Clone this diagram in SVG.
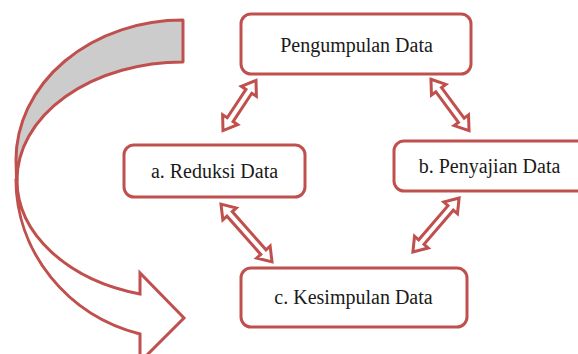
<svg xmlns="http://www.w3.org/2000/svg" width="578" height="354" viewBox="0 0 578 354">
<style>
.box{fill:#fff;stroke:#c0504d;stroke-width:3}
.lbl{font-family:"Liberation Serif","Times New Roman",serif;font-size:20px;fill:#1a1a1a;text-anchor:middle}
.dar{fill:#fff;stroke:#c0504d;stroke-width:3;stroke-linejoin:miter}
</style>
<rect width="578" height="354" fill="#fff"/>
<g id="cycle-arrow">
<path d="M183,20 A167,140 0 0 0 16,160 L16.5,178 L17,180 A166,118 0 0 1 183,62 Z" fill="#cccccc" stroke="#c0504d" stroke-width="3" stroke-linejoin="round"/>
<path d="M16,180 A167,160 0 0 0 140,334 L140,362 L184,318 L140,273 L140,294 A166,118 0 0 1 17,180 Z" fill="#fff" stroke="#c0504d" stroke-width="3" stroke-linejoin="miter"/>
</g>
<g id="connectors">
<path class="dar" transform="translate(239.5,105.5) rotate(123.4)" d="M-30,0 L-17,-9 L-17,-3.5 L17,-3.5 L17,-9 L30,0 L17,9 L17,3.5 L-17,3.5 L-17,9 Z"/>
<path class="dar" transform="translate(450,105) rotate(53.5)" d="M-32,0 L-19,-9 L-19,-3.5 L19,-3.5 L19,-9 L32,0 L19,9 L19,3.5 L-19,3.5 L-19,9 Z"/>
<path class="dar" transform="translate(246.5,233) rotate(48.5)" d="M-38.5,0 L-25.5,-9 L-25.5,-3.5 L25.5,-3.5 L25.5,-9 L38.5,0 L25.5,9 L25.5,3.5 L-25.5,3.5 L-25.5,9 Z"/>
<path class="dar" transform="translate(436,225) rotate(130.6)" d="M-35.5,0 L-22.5,-9 L-22.5,-3.5 L22.5,-3.5 L22.5,-9 L35.5,0 L22.5,9 L22.5,3.5 L-22.5,3.5 L-22.5,9 Z"/>
</g>
<g id="pengumpulan">
<rect class="box" x="241" y="14" width="230" height="60" rx="10"/>
<text class="lbl" x="356.5" y="52">Pengumpulan Data</text>
</g>
<g id="reduksi">
<rect class="box" x="124" y="145" width="181" height="52" rx="10"/>
<text class="lbl" x="214.5" y="178">a. Reduksi Data</text>
</g>
<g id="penyajian">
<rect class="box" x="394" y="141" width="200" height="50" rx="10"/>
<text class="lbl" x="489.5" y="173">b. Penyajian Data</text>
</g>
<g id="kesimpulan">
<rect class="box" x="241" y="268" width="226" height="59" rx="10"/>
<text class="lbl" x="353.5" y="304">c. Kesimpulan Data</text>
</g>
</svg>
